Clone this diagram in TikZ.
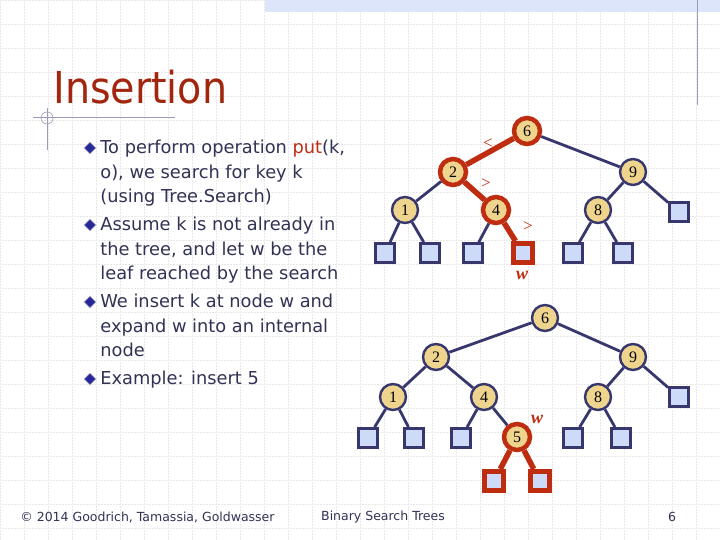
\documentclass[tikz,border=0pt]{standalone}
\usepackage{fontspec}
\setmainfont{DejaVu Sans}
\newfontfamily\serifnum{Liberation Serif}
\newfontfamily\condfont{DejaVu Sans Condensed}
\usetikzlibrary{shapes.geometric}
\definecolor{navy}{RGB}{55,55,110}
\definecolor{rust}{RGB}{190,45,15}
\definecolor{keyfill}{RGB}{238,212,140}
\definecolor{leaffill}{RGB}{205,218,248}
\definecolor{bodytext}{RGB}{50,50,85}
\tikzset{every picture/.style={line width=0.75pt}}
\tikzset{
  key/.style={circle,draw=navy,fill=keyfill,line width=2.4pt,minimum size=26pt,inner sep=0pt,font=\serifnum\fontsize{16}{16}\selectfont},
  hotkey/.style={key,draw=rust,line width=4.5pt},
  leaf/.style={rectangle,draw=navy,fill=leaffill,line width=2.8pt,minimum size=19pt,inner sep=0pt},
  hotleaf/.style={leaf,draw=rust,line width=5pt},
  edge/.style={draw=navy,line width=2.8pt},
  hotedge/.style={draw=rust,line width=5.5pt},
  bullet/.style={diamond,draw=navy!40,fill=navy!70!blue,inner sep=0pt,minimum size=12pt},
  item/.style={anchor=north west,align=left,text=bodytext,font=\fontsize{17.8}{24.3}\selectfont,inner sep=0pt},
}
\begin{document}
\begin{tikzpicture}[x=1pt,y=1pt,yscale=-1]
\useasboundingbox (0,0) rectangle (720,540);
%background grid
\fill[white] (0,0) rectangle (720,540);
\draw[black!9,densely dotted,line width=0.5pt] (0,0) grid[step=24] (720,540);
\fill[leaffill!70] (265,0) rectangle (720,12);
\draw[navy!50,line width=1pt] (697,0) -- (697,105);
\draw[navy!50,line width=1pt] (33,118) -- (175,118);
\draw[navy!50,line width=1pt] (47,108) -- (47,150);
\draw[navy!50,line width=0.6pt] (47,118) circle (6);

% Title
\node[anchor=west,text=rust!85!black,font=\condfont\fontsize{44}{44}\selectfont,inner sep=0pt] (title) at (53,87) {Insertion};

% Bullets
\node[item] (t1) at (100,140) {To perform operation \textcolor{rust}{put}(k,\\o), we search for key k\\(using Tree.Search)};
\node[item] (t2) at (100,217) {Assume k is not already in\\the tree, and let w be the\\leaf reached by the search};
\node[item] (t3) at (100,294) {We insert k at node w and\\expand w into an internal\\node};
\node[item] (t4) at (100,371) {Example: insert 5};
\foreach \y in {148,225,302,379} \node[bullet] at (90,\y) {};

% Top tree
\node[hotkey] (a6) at (527,131) {6};
\node[hotkey] (a2) at (453,172) {2};
\node[key] (a9) at (633,172) {9};
\node[key] (a1) at (405,210) {1};
\node[hotkey] (a4) at (496,210) {4};
\node[key] (a8) at (598,210) {8};
\node[leaf] (a9r) at (679,212) {};
\node[leaf] (l1) at (385,253) {};
\node[leaf] (l2) at (430,253) {};
\node[leaf] (l3) at (473,253) {};
\node[hotleaf] (lw) at (523,253) {};
\node[leaf] (l5) at (573,253) {};
\node[leaf] (l6) at (623,253) {};
\path[hotedge] (a6) -- (a2);
\path[hotedge] (a2) -- (a4);
\path[hotedge] (a4) -- (lw);
\path[edge] (a6) -- (a9);
\path[edge] (a2) -- (a1);
\path[edge] (a1) -- (l1);
\path[edge] (a1) -- (l2);
\path[edge] (a4) -- (l3);
\path[edge] (a9) -- (a8);
\path[edge] (a9) -- (a9r);
\path[edge] (a8) -- (l5);
\path[edge] (a8) -- (l6);
\node[text=rust,font=\serifnum\fontsize{17}{17}\selectfont] (lt) at (488,144) {<};
\node[text=rust,font=\serifnum\fontsize{17}{17}\selectfont] (gt1) at (486,184) {>};
\node[text=rust,font=\serifnum\fontsize{17}{17}\selectfont] (gt2) at (528,227) {>};
\node[text=rust,font=\serifnum\itshape\bfseries\fontsize{18}{18}\selectfont] (wa) at (522,275) {w};

% Bottom tree
\node[key] (b6) at (545,318) {6};
\node[key] (b2) at (436,357) {2};
\node[key] (b9) at (633,357) {9};
\node[key] (b1) at (393,397) {1};
\node[key] (b4) at (484,397) {4};
\node[key] (b8) at (598,397) {8};
\node[leaf] (b9r) at (679,397) {};
\node[leaf] (m1) at (368,438) {};
\node[leaf] (m2) at (414,438) {};
\node[leaf] (m3) at (461,438) {};
\node[hotkey] (b5) at (517,437) {5};
\node[leaf] (m5) at (573,438) {};
\node[leaf] (m6) at (621,438) {};
\node[hotleaf] (n1) at (494,481) {};
\node[hotleaf] (n2) at (540,481) {};
\path[edge] (b6) -- (b2);
\path[edge] (b6) -- (b9);
\path[edge] (b2) -- (b1);
\path[edge] (b2) -- (b4);
\path[edge] (b1) -- (m1);
\path[edge] (b1) -- (m2);
\path[edge] (b4) -- (m3);
\path[edge] (b4) -- (b5);
\path[edge] (b9) -- (b8);
\path[edge] (b9) -- (b9r);
\path[edge] (b8) -- (m5);
\path[edge] (b8) -- (m6);
\path[hotedge] (b5) -- (n1);
\path[hotedge] (b5) -- (n2);
\node[text=rust,font=\serifnum\itshape\bfseries\fontsize{18}{18}\selectfont] (wb) at (537,419) {w};

% Footer
\node[anchor=west,text=bodytext,font=\fontsize{12.5}{12.5}\selectfont,inner sep=0pt] (copy) at (20,517) {© 2014 Goodrich, Tamassia, Goldwasser};
\node[text=bodytext,font=\fontsize{12.5}{12.5}\selectfont,inner sep=0pt] (foot) at (383,517) {Binary Search Trees};
\node[text=bodytext,font=\fontsize{12.5}{12.5}\selectfont,inner sep=0pt] (page) at (672,517) {6};
\end{tikzpicture}
\end{document}
